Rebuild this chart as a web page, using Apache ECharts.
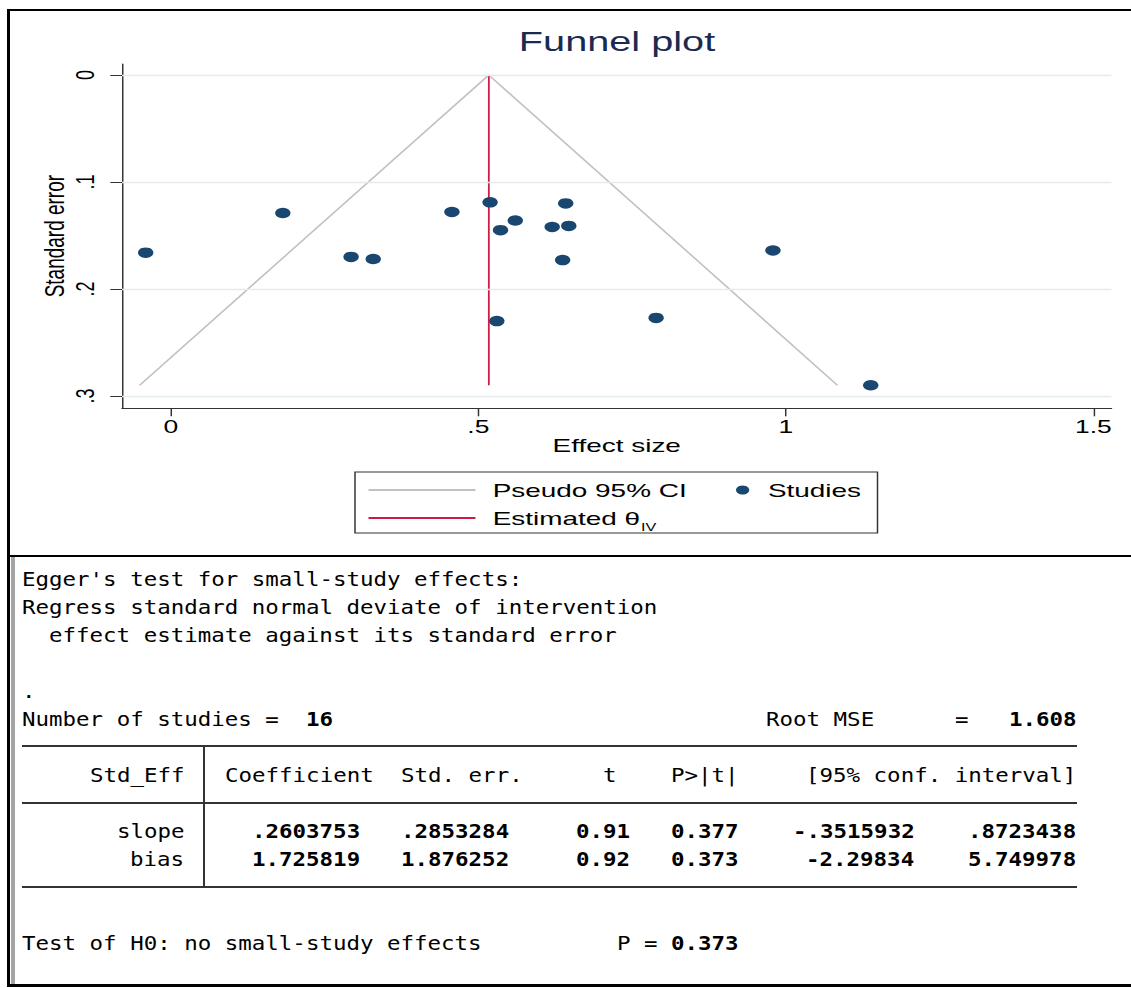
<!DOCTYPE html>
<html>
<head>
<meta charset="utf-8">
<title>Funnel plot</title>
<script src="https://cdn.jsdelivr.net/npm/echarts@6/dist/echarts.min.js"></script>
<style>
  html, body { margin: 0; padding: 0; background: #fff; }
  body { width: 1131px; height: 988px; position: relative; overflow: hidden; }
  /* the graph is drawn in a narrower box and stretched sideways */
  #plot { position: absolute; left: 0; top: 0; width: 769.4px; height: 556px;
          transform: scaleX(1.47); transform-origin: 0 0; }
  .log { position: absolute; margin: 0; height: 28px;
         font: 19px/28px "DejaVu Sans Mono", "Liberation Mono", monospace;
         color: #000; white-space: pre;
         transform: scaleX(1.1818); transform-origin: 0 0; }
  .log.b { font-weight: bold; }
  .rule { position: absolute; }
</style>
</head>
<body>
<div id="plot"></div>
<div id="log"></div>

<!-- window frame -->
<div class="rule" style="left:7px;top:9px;width:1124px;height:2px;background:#000"></div>
<div class="rule" style="left:7px;top:9px;width:3px;height:978px;background:#000"></div>
<div class="rule" style="left:7px;top:555px;width:1124px;height:2px;background:#000"></div>
<div class="rule" style="left:7px;top:984px;width:1124px;height:3px;background:#000"></div>
<div class="rule" style="left:11px;top:557px;width:4px;height:427px;background:#a4a4a4"></div>

<!-- regression table rules -->
<div class="rule" style="left:22px;top:745px;width:1055px;height:2px;background:#333"></div>
<div class="rule" style="left:22px;top:802px;width:1055px;height:2px;background:#333"></div>
<div class="rule" style="left:22px;top:886px;width:1055px;height:2px;background:#333"></div>
<div class="rule" style="left:203px;top:746px;width:2px;height:141px;background:#333"></div>

<script>
// Study estimates: effect size and its standard error
const studyEffect = [-0.041, 0.182, 0.293, 0.329, 0.457, 0.519, 0.536, 0.560,
                     0.620, 0.642, 0.647, 0.637, 0.530, 0.789, 0.979, 1.138];
const studySE     = [0.166, 0.129, 0.170, 0.172, 0.128, 0.119, 0.145, 0.136,
                     0.142, 0.120, 0.141, 0.173, 0.230, 0.227, 0.164, 0.290];

// Pseudo 95% confidence limits: left foot, apex, right foot
const ciEffect = [-0.051, 0.517, 1.084];
const ciSE     = [0.290, 0, 0.290];

// Inverse-variance pooled estimate
const thetaEffect = [0.517, 0.517];
const thetaSE     = [0, 0.290];

// Axis ticks and ranges
const xTicks = [0, 0.5, 1, 1.5];
const yTicks = [0, 0.1, 0.2, 0.3];
const xRange = [-0.0795, 1.5295];
const yRange = [-0.0103, 0.3115];

// Egger's regression output
const nStudies  = 16;
const rootMSE   = '1.608';
const eggerTerm = ['slope', 'bias'];
const eggerCoef = ['.2603753', '1.725819'];
const eggerSE   = ['.2853284', '1.876252'];
const eggerT    = ['0.91', '0.92'];
const eggerP    = ['0.377', '0.373'];
const eggerLo   = ['-.3515932', '-2.29834'];
const eggerHi   = ['.8723438', '5.749978'];
const smallStudyP = '0.373';

// ---------- results log (fixed-width columns) ----------
const CHAR_W = 13.52, LOG_X = 22, FIRST_BASE = 585.3, ROW_H = 28;
const sp = n => ' '.repeat(n);
// a number right-aligned in a field of width n (plain padding + bold value)
const field = (s, n) => [[sp(n - String(s).length), 0], [String(s), 1]];

const logRows = [
  [["Egger's test for small-study effects:", 0]],
  [['Regress standard normal deviate of intervention', 0]],
  [['  effect estimate against its standard error', 0]],
  [],
  [['.', 0]],
  [['Number of studies =  ', 0], [String(nStudies), 1],
   [sp(32) + 'Root MSE      =   ', 0], [rootMSE, 1]],
  [],
  [['     Std_Eff   Coefficient  Std. err.      t    P>|t|     [95% conf. interval]', 0]],
  [],
  ...eggerTerm.map((t, i) => [
    [t.padStart(12) + sp(3), 0],
    ...field(eggerCoef[i], 10), ...field(eggerSE[i], 11), ...field(eggerT[i], 9),
    ...field(eggerP[i], 8), ...field(eggerLo[i], 13), ...field(eggerHi[i], 12)
  ]),
  [],
  [],
  [['Test of H0: no small-study effects' + sp(10) + 'P = ', 0], [smallStudyP, 1]]
];

const logBox = document.getElementById('log');
logRows.forEach((segs, r) => {
  let col = 0;
  const top = FIRST_BASE + r * ROW_H - 20.6;
  segs.forEach(([text, bold]) => {
    // one element per run of words so nothing nests or overlaps
    const re = /\S+(?: \S+)*/g;
    let m;
    while ((m = re.exec(text)) !== null) {
      const el = document.createElement('span');
      el.className = 'log' + (bold ? ' b' : '');
      el.textContent = m[0];
      el.style.left = (LOG_X + (col + m.index) * CHAR_W) + 'px';
      el.style.top = top + 'px';
      logBox.appendChild(el);
    }
    col += text.length;
  });
});

// ---------- funnel plot ----------
const S = 1.47;
const FONT = '"Liberation Sans", Arial, Helvetica, sans-serif';
const fmt = v => String(+v.toFixed(3)).replace(/^0\./, '.');

const chart = echarts.init(document.getElementById('plot'), null,
  { renderer: 'svg', width: 1131 / S, height: 556 });

chart.setOption({
  animation: false,
  textStyle: { fontFamily: FONT },
  grid: { left: 122 / S, top: 64, width: (1111.5 - 122) / S, height: 344.3,
          outerBoundsMode: 'none', containLabel: false },
  xAxis: {
    type: 'value', min: xRange[0], max: xRange[1],
    axisLine: { show: true, onZero: false, lineStyle: { color: '#333', width: 1 } },
    axisTick: { show: true, length: 8, customValues: xTicks, lineStyle: { color: '#333', width: 1 } },
    axisLabel: { show: true, customValues: xTicks, margin: 10, fontSize: 18, color: '#000',
                 fontFamily: FONT, formatter: fmt },
    splitLine: { show: false },
    name: 'Effect size', nameLocation: 'middle', nameGap: 27, nameMoveOverlap: false,
    nameTextStyle: { fontSize: 19, color: '#000', fontFamily: FONT }
  },
  yAxis: {
    type: 'value', inverse: true, min: yRange[0], max: yRange[1],
    axisLine: { show: true, onZero: false, lineStyle: { color: '#333', width: 1 } },
    axisTick: { show: true, length: 8, customValues: yTicks, lineStyle: { color: '#333', width: 1 } },
    axisLabel: { show: true, customValues: yTicks, rotate: 90, margin: 16, fontSize: 18, color: '#000',
                 fontFamily: FONT, formatter: fmt },
    splitLine: { show: false },
    name: 'Standard error', nameLocation: 'middle', nameGap: 37, nameRotate: 90, nameMoveOverlap: false,
    nameTextStyle: { fontSize: 19, color: '#000', fontFamily: FONT }
  },
  legend: [
    {
      data: ['Pseudo 95% CI', 'Estimated θ'],
      orient: 'vertical', left: 367 / S, top: 477, padding: 0,
      itemWidth: 107 / S, itemHeight: 14, itemGap: 2, selectedMode: false,
      itemStyle: { color: 'rgba(0,0,0,0)', borderColor: 'rgba(0,0,0,0)', borderWidth: 0 },
      textStyle: { fontSize: 19, color: '#000', lineHeight: 20, fontFamily: FONT, padding: [0, 0, 6, 6.7] }
    },
    {
      data: ['Studies'],
      orient: 'horizontal', left: 736 / S, top: 477, padding: 0,
      itemWidth: 10, itemHeight: 9, icon: 'circle', selectedMode: false,
      textStyle: { fontSize: 19, color: '#000', lineHeight: 20, fontFamily: FONT, padding: [0, 0, 6, 7.2] }
    }
  ],
  graphic: [
    { type: 'text', x: 617 / S, y: 41.6, silent: true,
      style: { text: 'Funnel plot', fontSize: 27, fill: '#1b2a50', fontFamily: FONT,
               align: 'center', verticalAlign: 'middle' } },
    { type: 'rect', silent: true,
      shape: { x: 355 / S, y: 472, width: 522.5 / S, height: 61 },
      style: { fill: 'none', stroke: '#333', lineWidth: 1 } },
    { type: 'text', x: 641 / S, y: 527.5, silent: true,
      style: { text: 'IV', fontSize: 11, fill: '#000', fontFamily: FONT,
               align: 'left', verticalAlign: 'middle' } }
  ],
  series: [
    {
      type: 'line', name: 'gridlines', data: [], silent: true, z: 0,
      markLine: {
        silent: true, symbol: ['none', 'none'], label: { show: false }, animation: false,
        lineStyle: { color: '#e3ebee', width: 1.3, type: 'solid' },
        emphasis: { disabled: true },
        data: yTicks.map(v => ({ yAxis: v }))
      }
    },
    {
      type: 'line', name: 'Pseudo 95% CI', symbol: 'none', z: 2,
      lineStyle: { color: '#c2c2c2', width: 1.3 },
      itemStyle: { color: '#c2c2c2' },
      emphasis: { disabled: true },
      data: ciEffect.map((x, i) => [x, ciSE[i]])
    },
    {
      type: 'line', name: 'Estimated θ', symbol: 'none', z: 3,
      lineStyle: { color: '#cf1b40', width: 1.2 },
      itemStyle: { color: '#cf1b40' },
      emphasis: { disabled: true },
      data: thetaEffect.map((x, i) => [x, thetaSE[i]])
    },
    {
      type: 'scatter', name: 'Studies', symbol: 'circle', symbolSize: 10.5, z: 4,
      itemStyle: { color: '#1a476f', opacity: 1 },
      emphasis: { disabled: true },
      data: studyEffect.map((x, i) => [x, studySE[i]])
    }
  ]
});
</script>
</body>
</html>
